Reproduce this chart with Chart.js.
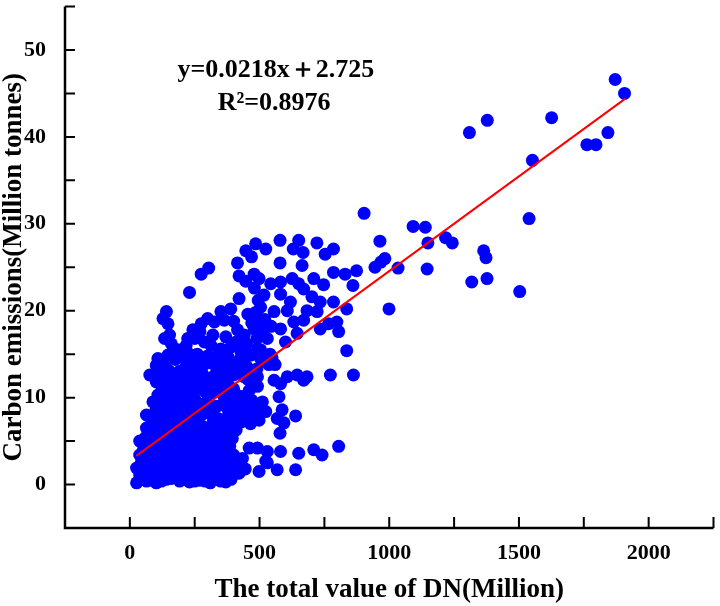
<!DOCTYPE html>
<html>
<head>
<meta charset="utf-8">
<script src="https://cdn.jsdelivr.net/npm/chart.js@4.4.0/dist/chart.umd.min.js"></script>
<style>
  body { margin: 0; background: #fff; }
  canvas { display: block; }
</style>
</head>
<body>
<canvas id="dnChart" width="720" height="606"></canvas>
<script>
// DN total value (Million) vs carbon emissions (Million tonnes)
const sparsePoints = [
  [1871, 46.6], [1907, 45.0], [1626, 42.2], [1378, 41.9], [1309, 40.5], [1843, 40.5],
  [1762, 39.1], [1797, 39.1], [1552, 37.3], [1539, 30.6], [903, 31.2], [1092, 29.7],
  [1139, 29.6], [964, 28.0], [1149, 27.8], [1217, 28.4], [1243, 27.8], [1364, 26.9],
  [1373, 26.1], [983, 26.0], [968, 25.6], [945, 25.0], [1034, 24.9], [1146, 24.8],
  [1318, 23.3], [1377, 23.7], [1503, 22.2], [999, 20.2], [874, 24.6], [860, 22.9],
  [773, 12.6], [862, 12.6], [556, 12.0], [581, 11.6], [607, 12.4], [645, 12.6],
  [670, 12.0], [683, 12.4], [492, 12.4], [492, 11.3], [575, 10.1], [511, 9.5],
  [492, 8.6], [498, 7.4], [587, 8.6], [568, 7.6], [594, 7.1], [639, 7.9],
  [579, 5.9], [492, 4.2], [530, 3.8], [581, 3.8], [651, 3.6], [709, 4.0],
  [741, 3.4], [805, 4.4], [530, 2.5], [498, 1.5], [568, 1.7], [639, 1.7], [524, 2.7],
  [410, 1.5], [433, 1.9], [472, 7.6], [524, 8.4]
];

const upperCluster = [
  [230, 22.1], [275, 24.2], [304, 24.9], [415, 25.5], [447, 26.9], [485, 27.7],
  [524, 27.1], [579, 28.1], [651, 28.1], [721, 27.8], [630, 27.1], [668, 26.7],
  [785, 27.1], [753, 26.5], [469, 26.2], [579, 25.5], [664, 25.2], [421, 24.0],
  [447, 23.4], [498, 23.7], [543, 23.1], [581, 23.3], [626, 23.7], [651, 23.1],
  [709, 23.7], [747, 23.0], [830, 24.2], [785, 24.4], [479, 24.2],
  [517, 21.8], [581, 21.9], [619, 21.0], [670, 22.5], [702, 21.6], [734, 21.0],
  [785, 21.0], [836, 20.2], [504, 20.4], [556, 19.9], [607, 20.0], [683, 20.0],
  [722, 19.9], [504, 18.7], [581, 17.9], [632, 18.7], [670, 18.9], [734, 17.9],
  [766, 18.5], [805, 17.6], [798, 18.7], [645, 17.4], [600, 16.4], [530, 16.8],
  [504, 15.5], [836, 15.4], [504, 14.5], [421, 21.4], [351, 19.9], [389, 20.2],
  [300, 19.1], [275, 18.5], [326, 18.7], [364, 18.9], [243, 17.8], [223, 16.8],
  [134, 16.8], [153, 17.2], [141, 19.9], [128, 19.1], [147, 18.5], [415, 17.8],
  [441, 17.2], [479, 17.9], [492, 19.3], [287, 16.4], [313, 16.0], [351, 15.6],
  [389, 15.8], [428, 15.3], [466, 14.9], [492, 15.6], [217, 16.0], [185, 15.5],
  [147, 14.9], [108, 14.5], [160, 16.2], [200, 15.2], [260, 15.0], [300, 14.8],
  [340, 14.9], [380, 14.6], [410, 16.4], [450, 16.2], [470, 18.6], [455, 19.6],
  [400, 18.8], [320, 17.2], [370, 17.0], [250, 16.8], [270, 17.6], [230, 15.0],
  [480, 22.6], [495, 21.2], [485, 19.8], [520, 19.0], [515, 17.4], [545, 18.2],
  [490, 16.8], [540, 15.0], [548, 14.6], [536, 13.8], [517, 14.2], [560, 13.8]
];

const denseCluster = [
  [26, 0.2], [64, 0.4], [102, 0.2], [141, 0.6], [192, 0.4], [230, 0.3], [270, 0.5], [310, 0.2], [350, 0.4], [390, 0.6],
  [38, 1.1], [80, 1.0], [120, 0.9], [165, 1.2], [210, 1.0], [250, 0.9], [294, 0.8], [332, 1.1], [375, 1.0], [421, 1.3],
  [26, 1.9], [60, 1.7], [95, 2.0], [135, 1.8], [175, 1.9], [217, 1.5], [268, 1.9], [310, 1.8], [350, 2.0], [383, 1.9], [445, 1.8],
  [45, 2.6], [85, 2.8], [120, 2.5], [160, 2.9], [200, 2.6], [243, 3.0], [300, 2.7], [340, 2.9], [396, 2.7], [434, 3.0],
  [38, 3.4], [70, 3.6], [105, 3.3], [140, 3.7], [178, 3.5], [215, 3.4], [255, 3.6], [290, 3.5], [325, 3.3], [365, 3.6], [400, 3.4],
  [38, 5.0], [64, 4.2], [90, 4.6], [125, 4.3], [160, 4.5], [195, 4.2], [235, 4.6], [270, 4.4], [310, 4.3], [345, 4.6], [385, 4.4], [460, 4.2],
  [60, 5.4], [98, 5.2], [133, 5.5], [170, 5.2], [208, 5.4], [245, 5.3], [283, 5.5], [320, 5.2], [358, 5.4], [395, 5.3],
  [64, 6.5], [100, 6.1], [140, 6.3], [180, 6.0], [218, 6.3], [255, 6.1], [300, 6.4], [335, 6.2], [372, 6.0], [410, 6.3],
  [89, 7.1], [115, 7.3], [150, 7.0], [190, 7.2], [230, 7.0], [255, 7.4], [320, 7.1], [350, 7.3], [390, 7.0], [430, 7.2], [465, 7.0],
  [64, 8.0], [120, 8.1], [160, 7.9], [200, 8.2], [240, 8.0], [280, 8.1], [318, 7.9], [395, 8.0], [435, 8.2], [470, 7.9],
  [115, 8.8], [140, 9.0], [172, 8.8], [210, 9.1], [250, 8.9], [290, 8.7], [335, 9.0], [375, 8.8], [410, 9.1], [450, 8.9],
  [89, 9.5], [130, 9.9], [168, 9.7], [210, 10.0], [250, 9.8], [300, 9.7], [365, 9.9], [400, 9.6], [440, 9.9], [470, 9.7],
  [108, 10.3], [145, 10.8], [185, 10.6], [225, 10.9], [290, 10.7], [315, 10.5], [355, 10.8], [390, 10.6], [460, 10.8],
  [102, 11.8], [150, 11.6], [190, 11.5], [235, 11.7], [270, 11.5], [310, 11.8], [345, 11.6], [380, 11.4], [470, 11.6],
  [77, 12.6], [128, 12.8], [165, 12.4], [200, 12.6], [240, 12.3], [280, 12.7], [325, 12.5], [360, 12.3], [400, 12.6], [440, 12.4], [475, 12.5],
  [102, 13.7], [140, 13.4], [215, 13.5], [250, 13.2], [280, 13.6], [335, 13.3], [370, 13.5], [410, 13.2], [450, 13.6], [490, 13.3],
  [130, 14.2], [175, 14.4], [220, 14.1], [260, 14.3], [310, 14.0], [350, 14.2], [390, 14.1], [425, 14.4]
];

// in-between points of the solid lower-left mass
const denseFill = [
  [45, 0.6], [83, 0.5], [122, 0.4], [160, 0.7], [212, 0.6], [250, 0.4], [290, 0.4], [330, 0.6], [370, 0.3],
  [55, 1.4], [100, 1.3], [140, 1.3], [190, 1.4], [232, 1.3], [280, 1.2], [315, 1.4], [355, 1.5], [400, 1.2],
  [40, 2.2], [78, 2.3], [115, 2.1], [155, 2.3], [195, 2.1], [240, 2.3], [285, 2.2], [325, 2.4], [370, 2.3], [415, 2.2],
  [60, 3.1], [95, 3.0], [135, 3.2], [175, 2.9], [220, 3.1], [270, 3.1], [310, 3.0], [350, 3.2], [380, 3.0],
  [52, 4.0], [80, 3.9], [110, 4.0], [150, 4.1], [190, 3.9], [230, 4.0], [280, 4.0], [330, 3.9], [365, 4.1],
  [75, 4.9], [110, 5.0], [145, 4.9], [185, 4.8], [225, 5.0], [260, 4.9], [300, 5.0], [340, 4.9], [375, 4.8],
  [80, 5.8], [115, 5.8], [155, 5.7], [195, 5.9], [235, 5.7], [270, 5.9], [315, 5.8], [350, 5.7], [388, 5.9],
  [80, 6.8], [130, 6.6], [165, 6.7], [205, 6.6], [240, 6.8], [280, 6.7], [330, 6.6], [360, 6.8], [395, 6.6],
  [100, 7.6], [140, 7.7], [175, 7.6], [215, 7.5], [340, 7.6], [375, 7.7], [415, 7.6],
  [100, 8.5], [150, 8.4], [190, 8.5], [230, 8.6], [270, 8.4], [310, 8.5], [395, 8.6], [430, 8.5],
  [110, 9.3], [150, 9.4], [190, 9.3], [270, 9.3], [380, 9.3], [420, 9.4],
  [125, 10.2], [165, 10.3], [200, 10.2], [245, 10.3], [360, 10.3], [420, 10.2], [450, 10.3],
  [125, 11.1], [165, 11.2], [210, 11.1], [250, 11.2], [300, 11.1], [335, 11.2], [400, 11.0],
  [120, 12.1], [180, 12.0], [220, 12.1], [260, 12.0], [300, 12.2], [345, 12.0], [455, 12.1],
  [120, 13.0], [150, 13.1], [190, 13.0], [230, 12.9], [265, 13.0], [355, 13.0], [390, 12.9], [430, 13.0], [470, 13.1]
];

// fitted line end points as drawn in the figure
const fitLine = [[25, 3.3], [1910, 44.4]];
const equationText = 'y=0.0218x\uFF0B2.725';
const r2Text = 'R\u00B2=0.8976';

const xTitle = 'The total value of DN(Million)';
const yTitle = 'Carbon emissions(Million tonnes)';

const serif = "'Times New Roman', 'Liberation Serif', serif";

const toXY = p => ({ x: p[0], y: p[1] });

// axes drawn by hand so the ticks point inward like the original
const axisFrame = {
  id: 'axisFrame',
  afterDatasetsDraw(chart) {
    const { ctx, chartArea: a, scales: { x, y } } = chart;
    ctx.save();
    ctx.strokeStyle = '#000';
    ctx.lineWidth = 2.5;
    ctx.beginPath();
    ctx.moveTo(a.left, a.top);
    ctx.lineTo(a.left, a.bottom);
    ctx.lineTo(a.right, a.bottom);
    ctx.stroke();

    ctx.lineWidth = 2;
    ctx.beginPath();
    y.ticks.forEach(t => {
      const py = y.getPixelForValue(t.value);
      ctx.moveTo(a.left, py);
      ctx.lineTo(a.left + 10, py);
    });
    x.ticks.forEach(t => {
      const px = x.getPixelForValue(t.value);
      ctx.moveTo(px, a.bottom);
      ctx.lineTo(px, a.bottom - 11);
    });
    ctx.stroke();

    // regression annotation
    ctx.fillStyle = '#000';
    ctx.textAlign = 'center';
    ctx.textBaseline = 'middle';
    ctx.font = 'bold 26px ' + serif;
    ctx.fillText(equationText, x.getPixelForValue(563), y.getPixelForValue(47.7));
    ctx.fillText(r2Text, x.getPixelForValue(556), y.getPixelForValue(43.9));
    ctx.restore();
  }
};

new Chart(document.getElementById('dnChart'), {
  type: 'scatter',
  data: {
    datasets: [
      {
        type: 'line',
        label: 'Fit',
        data: fitLine.map(toXY),
        borderColor: '#ff0000',
        borderWidth: 2,
        pointRadius: 0,
        fill: false,
        order: 0
      },
      {
        label: 'Cities',
        data: [...denseCluster, ...denseFill, ...upperCluster, ...sparsePoints].map(toXY),
        backgroundColor: '#0000ff',
        borderWidth: 0,
        pointRadius: 6.5,
        order: 1
      }
    ]
  },
  options: {
    responsive: false,
    devicePixelRatio: 1,
    animation: false,
    layout: {
      padding: { top: 3, right: 3, left: 0, bottom: 0 }
    },
    plugins: {
      legend: { display: false },
      tooltip: { enabled: false }
    },
    scales: {
      x: {
        type: 'linear',
        min: -250,
        max: 2250,
        grid: { display: false },
        border: { display: false },
        ticks: {
          stepSize: 250,
          autoSkip: false,
          maxRotation: 0,
          padding: 4,
          color: '#000',
          font: { family: serif, size: 22, weight: 'bold' },
          callback: v => (v % 500 === 0 ? v : '')
        },
        title: {
          display: true,
          text: xTitle,
          color: '#000',
          font: { family: serif, size: 27, weight: 'bold' },
          padding: { top: 0, bottom: 0 }
        },
        afterFit(scale) {
          scale.height = 78;
          scale.paddingLeft = 0;
          scale.paddingRight = 0;
        }
      },
      y: {
        type: 'linear',
        min: -5,
        max: 55,
        grid: { display: false },
        border: { display: false },
        ticks: {
          stepSize: 5,
          autoSkip: false,
          padding: 11,
          color: '#000',
          font: { family: serif, size: 22, weight: 'bold' },
          callback: v => (v % 10 === 0 ? v : '')
        },
        title: {
          display: true,
          text: yTitle,
          color: '#000',
          font: { family: serif, size: 27, weight: 'bold' },
          padding: { top: -2, bottom: 0 }
        },
        afterFit(scale) {
          scale.width = 65;
          scale.paddingTop = 0;
          scale.paddingBottom = 0;
        }
      }
    }
  },
  plugins: [axisFrame]
});
</script>
</body>
</html>
